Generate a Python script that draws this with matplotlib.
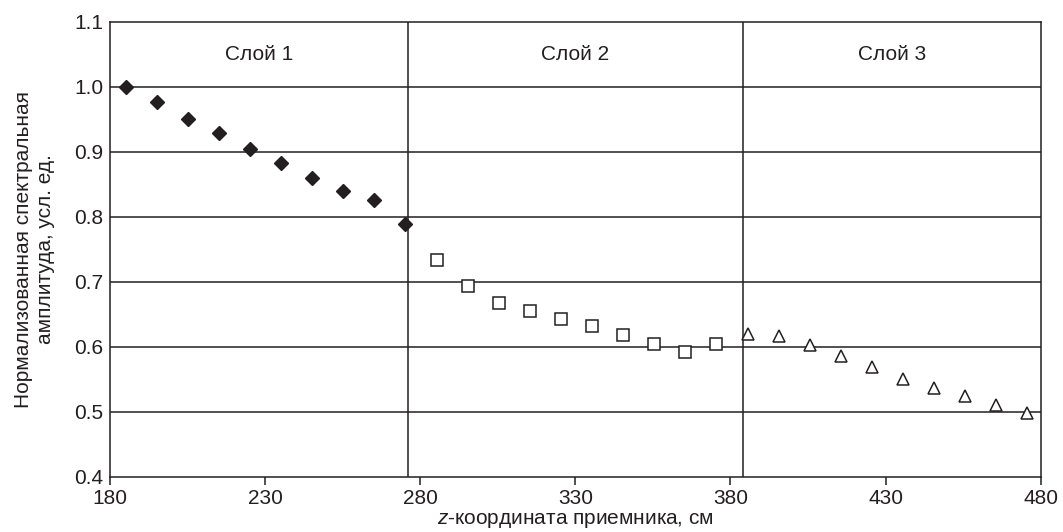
import matplotlib
matplotlib.use("Agg")
import matplotlib.pyplot as plt

plt.rcParams['font.family'] = ['Liberation Sans', 'DejaVu Sans']
plt.rcParams['mathtext.fontset'] = 'custom'
plt.rcParams['mathtext.it'] = 'Liberation Sans:italic'
plt.rcParams['mathtext.rm'] = 'Liberation Sans'

INK = '#231f20'
FS = 15

# Receiver z-coordinate (cm) and normalized spectral amplitude for each layer
z_layer1 = [185, 195, 205, 215, 225, 235, 245, 255, 265, 275]
amp_layer1 = [1.000, 0.977, 0.951, 0.928, 0.904, 0.882, 0.859, 0.840, 0.825, 0.789]

z_layer2 = [285.5, 295.5, 305.5, 315.5, 325.5, 335.5, 345.5, 355.5, 365.5, 375.5]
amp_layer2 = [0.733, 0.694, 0.667, 0.655, 0.642, 0.632, 0.618, 0.604, 0.592, 0.604]

z_layer3 = [385.5, 395.5, 405.5, 415.5, 425.5, 435.5, 445.5, 455.5, 465.5, 475.5]
amp_layer3 = [0.620, 0.617, 0.602, 0.585, 0.568, 0.551, 0.537, 0.524, 0.510, 0.498]

layer_bounds = [276, 384]
layer_names = ['Слой 1', 'Слой 2', 'Слой 3']

x_ticks = [180, 230, 280, 330, 380, 430, 480]
y_ticks = [0.4, 0.5, 0.6, 0.7, 0.8, 0.9, 1.0, 1.1]

fig = plt.figure(figsize=(10.63, 5.32), dpi=100)
ax = fig.add_axes([0.1035, 0.104, 0.8755, 0.8552])

ax.set_xlim(180, 480)
ax.set_ylim(0.4, 1.1)

# horizontal grid
for y in y_ticks[1:-1]:
    ax.axhline(y, color=INK, lw=1.1, zorder=1)
# layer boundaries
for xb in layer_bounds:
    ax.axvline(xb, color=INK, lw=1.1, zorder=1)

ax.plot(z_layer1, amp_layer1, linestyle='none', marker='D', ms=6.8,
        color=INK, mec=INK, zorder=3)
ax.plot(z_layer2, amp_layer2, linestyle='none', marker='s', ms=8.4,
        mfc='white', mec=INK, mew=1.1, zorder=3)
ax.plot(z_layer3, amp_layer3, linestyle='none', marker='^', ms=8.4,
        mfc='white', mec=INK, mew=1.1, zorder=3)

# layer captions centred in each region
edges = [180] + layer_bounds + [480]
for i, name in enumerate(layer_names):
    ax.text((edges[i] + edges[i + 1]) / 2, 1.05, name, ha='center', va='center',
            fontsize=FS, color=INK)

ax.set_xticks(x_ticks)
ax.set_xticklabels([str(v) for v in x_ticks])
ax.set_yticks(y_ticks)
ax.set_yticklabels([f'{v:.1f}' for v in y_ticks])
ax.tick_params(axis='x', direction='out', length=6, width=1.1, color=INK,
               labelsize=FS, labelcolor=INK, pad=3)
ax.tick_params(axis='y', length=0, labelsize=FS, labelcolor=INK, pad=5)

for s in ax.spines.values():
    s.set_color(INK)
    s.set_linewidth(1.1)

ax.set_xlabel(r'$\it{z}$-координата приемника, см', fontsize=FS, color=INK,
              labelpad=2)
ax.set_ylabel('Нормализованная спектральная\nамплитуда, усл. ед.', fontsize=FS,
              color=INK, linespacing=1.2, labelpad=14)

fig.savefig('out.png', dpi=100)
